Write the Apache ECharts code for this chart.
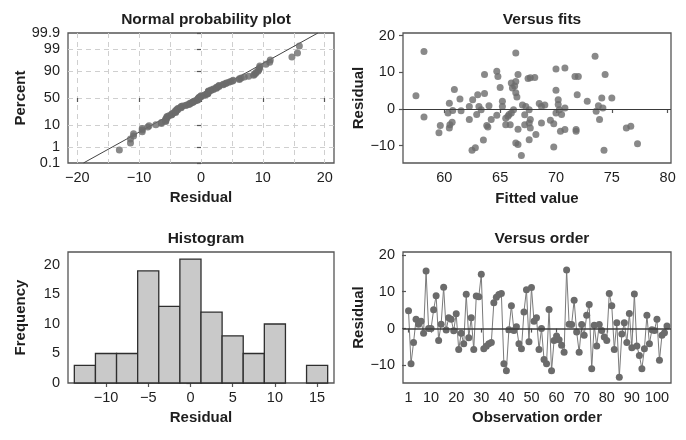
<!DOCTYPE html>
<html><head><meta charset="utf-8">
<script src="https://cdn.jsdelivr.net/npm/echarts@6/dist/echarts.min.js"></script>
<style>html,body{margin:0;padding:0;background:#fff}#c{width:686px;height:440px}</style>
</head><body><div id="c"></div>
<script>
// ---- data ----
const residuals = [4.8,-9.5,-3.8,2.5,1.2,2.0,-1.3,15.6,0.0,0.0,
  5.1,8.9,-3.2,1.2,11.2,-0.4,2.9,2.5,-0.6,4.0,
  -5.7,-1.3,-4.1,9.3,-2.5,2.9,-5.7,8.8,8.6,14.7,
  -5.5,-4.8,-4.1,-3.8,7.0,8.5,9.2,9.5,-9.5,-11.4,
  -0.3,6.2,-0.5,0.5,-4.1,-5.5,4.5,10.5,-3.6,11.1,
  2.0,2.9,-5.7,0.0,-8.4,-9.5,5.2,-11.4,-3.2,-2.0,
  -3.0,-4.5,-6.4,15.9,1.2,1.1,7.7,-0.9,-6.4,1.1,
  -1.8,3.6,6.5,-10.9,0.9,-4.7,1.1,-0.5,-2.3,-3.2,
  9.5,6.2,-5.7,1.6,-13.2,-1.5,1.6,-3.8,4.1,-5.2,
  9.4,-4.7,-7.3,-10.9,-5.5,3.6,-4.1,-0.3,-0.5,2.5,
  -8.6,-1.8,-1.1,0.7];
const fittedValues = [57.46,58.18,58.18,59.64,59.52,60.45,60.33,60.9,60.75,60.5,
  60.45,60.7,61.4,61.5,62.24,62.24,62.54,62.48,62.78,62.99,
  62.9,63.1,63.3,63.6,63.6,63.5,63.8,63.9,64.0,64.2,
  64.7,64.8,64.7,65.0,65.2,65.2,65.5,65.5,65.8,66.0,
  65.9,66.0,66.1,66.2,66.4,66.4,66.4,66.5,66.4,66.6,
  66.6,66.6,66.9,67.0,67.2,67.3,67.5,67.7,67.6,67.6,
  67.6,67.7,67.7,68.1,68.2,68.5,68.7,68.7,69.0,69.5,
  69.8,69.8,70.0,70.0,70.0,70.2,70.2,70.3,70.5,70.4,
  70.8,70.8,70.8,71.7,72.0,71.9,71.8,71.8,72.8,73.5,
  73.6,73.8,73.9,74.1,74.2,74.3,74.4,75.0,76.3,76.7,
  77.3,65.7,66.3,67.2];
const fitResiduals = [3.6,15.7,-2.2,-4.5,-6.5,1.6,-1.1,5.3,-0.4,-4.3,
  -5.2,-3.6,2.7,-0.5,-2.9,0.7,2.5,-11.3,-10.6,3.9,
  -1.5,0.7,-0.2,9.4,4.2,-8.5,-4.5,-4.9,0.9,-2.9,
  10.3,8.9,-1.7,5.9,2.1,0.7,-2.5,-4.3,-1.5,-1.1,
  -4.3,7.1,5.7,-0.2,7.5,15.3,4.4,3.3,-9.3,-9.7,
  -5.5,9.4,-12.7,1.1,-4.3,0.7,8.3,8.5,-0.2,-3.8,
  -8.4,-5.2,-2.9,8.6,-7.0,1.5,0.7,-3.8,1.1,-3.1,
  -4.0,-10.4,10.9,5.1,-1.1,2.5,1.2,-0.2,-1.5,-6.1,
  11.2,-5.6,0.3,8.9,8.9,3.9,-5.6,-6.1,2.1,14.4,
  -0.6,0.9,-2.9,3.0,0.3,-11.3,9.4,3.0,-5.2,-4.7,
  -9.5,-2.0,6.3,-1.6];
const histCenters = [-12.5,-10,-7.5,-5,-2.5,0,2.5,5,7.5,10,12.5,15];
const histCounts  = [3,5,5,19,13,21,12,8,5,10,0,3];
const histBinWidth = 2.5;
const probTickPercents = [0.1,1,10,50,90,99,99.9];
const probGridPercents = [1,10,50,90,99];
const fitLineResidual = [-19.0, 18.9];
const fitLinePercent  = [0.1, 99.9];
const probXTicks = [-20,-10,0,10,20];
const probXGrid  = [-20,-15,-10,-5,0,5,10,15,20];
const fitsXTicks = [60,65,70,75,80];
const residTicks = [-10,0,10,20];
const histXTicks = [-10,-5,0,5,10,15];
const histYTicks = [0,5,10,15,20];
const orderTicks = [1,10,20,30,40,50,60,70,80,90,100];

// inverse standard normal CDF (Acklam)
function normInv(p){
  const a=[-3.969683028665376e+01,2.209460984245205e+02,-2.759285104469687e+02,1.383577518672690e+02,-3.066479806614716e+01,2.506628277459239e+00];
  const b=[-5.447609879822406e+01,1.615858368580409e+02,-1.556989798598866e+02,6.680131188771972e+01,-1.328068155288572e+01];
  const c=[-7.784894002430293e-03,-3.223964580411365e-01,-2.400758277161838e+00,-2.549732539343734e+00,4.374664141464968e+00,2.938163982698783e+00];
  const d=[7.784695709041462e-03,3.224671290700398e-01,2.445134137142996e+00,3.754408661907416e+00];
  const pl=0.02425, ph=1-pl; let q,r;
  if(p<pl){q=Math.sqrt(-2*Math.log(p));return (((((c[0]*q+c[1])*q+c[2])*q+c[3])*q+c[4])*q+c[5])/((((d[0]*q+d[1])*q+d[2])*q+d[3])*q+1);}
  if(p<=ph){q=p-0.5;r=q*q;return (((((a[0]*r+a[1])*r+a[2])*r+a[3])*r+a[4])*r+a[5])*q/(((((b[0]*r+b[1])*r+b[2])*r+b[3])*r+b[4])*r+1);}
  q=Math.sqrt(-2*Math.log(1-p));return -(((((c[0]*q+c[1])*q+c[2])*q+c[3])*q+c[4])*q+c[5])/((((d[0]*q+d[1])*q+d[2])*q+d[3])*q+1);
}

const FONT = 'Liberation Sans, Arial, Helvetica, sans-serif';
const TXT = '#1e1e1e', FRAME = '#555', PT = '#6b6b6b';

const n = residuals.length;
const sorted = residuals.slice().sort((x,y)=>x-y);
const probData = sorted.map((v,i)=>[v, normInv((i+1-0.3)/(n+0.4))]);
const probTickZ = probTickPercents.map(p=>normInv(p/100));
const zMin = normInv(0.001) - 1e-6, zMax = normInv(0.999) + 1e-6;
const fitLineData = fitLineResidual.map((v,i)=>[v, normInv(fitLinePercent[i]/100)]);
const fitsData = fittedValues.map((v,i)=>[v, fitResiduals[i]]);
const orderData = residuals.map((v,i)=>[i+1, v]);
const histData = histCenters.map((c,i)=>[c, histCounts[i]]);

function labelFmt(v){
  for (let i=0;i<probTickZ.length;i++) if (Math.abs(probTickZ[i]-v)<1e-4) return String(probTickPercents[i]);
  return '';
}
const minusFmt = v => (v<0 ? '\u2212'+Math.abs(v) : String(v));

const axisTxt = {color:TXT, fontSize:14.5, fontFamily:FONT};
const nameTxt = {color:TXT, fontSize:15, fontWeight:'bold', fontFamily:FONT};
const tick = {show:true, length:4, lineStyle:{color:FRAME, width:1.2}};
const dashed = {show:true, lineStyle:{color:'#cfcfcf', type:[5,4], width:1}};

function xAx(grid, min, max, ticks, name, gap, extra){
  return Object.assign({type:'value', gridIndex:grid, min, max, name, nameLocation:'middle', nameGap:gap,
    nameTextStyle:nameTxt, axisLine:{show:false}, axisTick:Object.assign({customValues:ticks}, tick),
    axisLabel:Object.assign({customValues:ticks, margin:7, formatter:minusFmt, showMinLabel:true, showMaxLabel:true}, axisTxt), splitLine:{show:false}}, extra||{});
}
function yAx(grid, min, max, ticks, name, gap, extra){
  return Object.assign({type:'value', gridIndex:grid, min, max, name, nameLocation:'middle', nameGap:gap,
    nameTextStyle:nameTxt, axisLine:{show:false}, axisTick:Object.assign({customValues:ticks}, tick),
    axisLabel:Object.assign({customValues:ticks, margin:8, formatter:minusFmt, showMinLabel:true, showMaxLabel:true}, axisTxt), splitLine:{show:false}}, extra||{});
}

const gridBase = {show:true, borderColor:FRAME, borderWidth:1.3, backgroundColor:'transparent', containLabel:false};
const titleBase = {textAlign:'center', textStyle:{color:TXT, fontSize:15.5, fontWeight:'bold', fontFamily:FONT}};

const option = {
  animation:false,
  backgroundColor:'#fff',
  title:[
    Object.assign({text:'Normal probability plot', left:201, top:7}, titleBase),
    Object.assign({text:'Versus fits', left:537, top:7}, titleBase),
    Object.assign({text:'Histogram', left:201, top:226}, titleBase),
    Object.assign({text:'Versus order', left:537, top:226}, titleBase)
  ],
  grid:[
    Object.assign({left:68, top:33, width:266, height:130}, gridBase),
    Object.assign({left:403, top:33, width:268, height:130}, gridBase),
    Object.assign({left:68, top:252, width:266, height:131}, gridBase),
    Object.assign({left:403, top:252, width:268, height:131}, gridBase)
  ],
  xAxis:[
    xAx(0, -21.5, 21.5, probXTicks, 'Residual', 27),
    xAx(1, 56.3, 80.3, fitsXTicks, 'Fitted value', 28),
    xAx(2, -14.5, 17.0, histXTicks, 'Residual', 27),
    xAx(3, -1.2, 105.6, orderTicks, 'Observation order', 27),
    {type:'value', gridIndex:0, min:-21.5, max:21.5, position:'bottom', axisLine:{show:false},
      axisTick:{show:false, customValues:probXGrid}, axisLabel:{show:false}, splitLine:dashed}
  ],
  yAxis:[
    yAx(0, zMin, zMax, probTickZ, 'Percent', 40, {axisLabel:Object.assign({customValues:probTickZ, margin:8, formatter:labelFmt, showMinLabel:true, showMaxLabel:true}, axisTxt)}),
    yAx(1, -14.75, 20.75, residTicks, 'Residual', 25),
    yAx(2, 0, 22.2, histYTicks, 'Frequency', 40),
    yAx(3, -14.75, 20.75, residTicks, 'Residual', 25),
    {type:'value', gridIndex:0, min:zMin, max:zMax, axisLine:{show:false},
      axisTick:{show:false, customValues:probGridPercents.map(p=>normInv(p/100))}, axisLabel:{show:false}, splitLine:dashed}
  ],
  series:[
    {type:'line', xAxisIndex:0, yAxisIndex:0, data:fitLineData, symbol:'none', z:2,
      lineStyle:{color:'#444', width:1}, clip:true},
    {type:'scatter', xAxisIndex:0, yAxisIndex:0, data:probData, symbol:'circle', symbolSize:7, z:3,
      itemStyle:{color:PT}},
    {type:'scatter', xAxisIndex:1, yAxisIndex:1, data:fitsData, symbol:'circle', symbolSize:7, z:3,
      itemStyle:{color:PT},
      markLine:{silent:true, symbol:'none', label:{show:false}, lineStyle:{color:'#3a3a3a', width:1.2, type:'solid'}, data:[{yAxis:0}]}},
    {type:'custom', xAxisIndex:2, yAxisIndex:2, data:histData, encode:{x:0, y:1},
      renderItem:function(params, api){
        const c = api.value(0), v = api.value(1);
        if (!v) return null;
        const p0 = api.coord([c - histBinWidth/2, v]);
        const p1 = api.coord([c + histBinWidth/2, 0]);
        return {type:'rect', shape:{x:p0[0], y:p0[1], width:p1[0]-p0[0], height:p1[1]-p0[1]},
          style:{fill:'#c9c9c9', stroke:'#2e2e2e', lineWidth:1.3}};
      }},
    {type:'line', xAxisIndex:3, yAxisIndex:3, data:orderData, symbol:'circle', symbolSize:7, showAllSymbol:true, z:3,
      lineStyle:{color:'#7a7a7a', width:1}, itemStyle:{color:PT},
      markLine:{silent:true, symbol:'none', label:{show:false}, lineStyle:{color:'#3a3a3a', width:1.5, type:'solid'}, data:[{yAxis:0}]}}
  ]
};
echarts.init(document.getElementById('c'), null, {renderer:'canvas'}).setOption(option);
</script>
</body></html>
